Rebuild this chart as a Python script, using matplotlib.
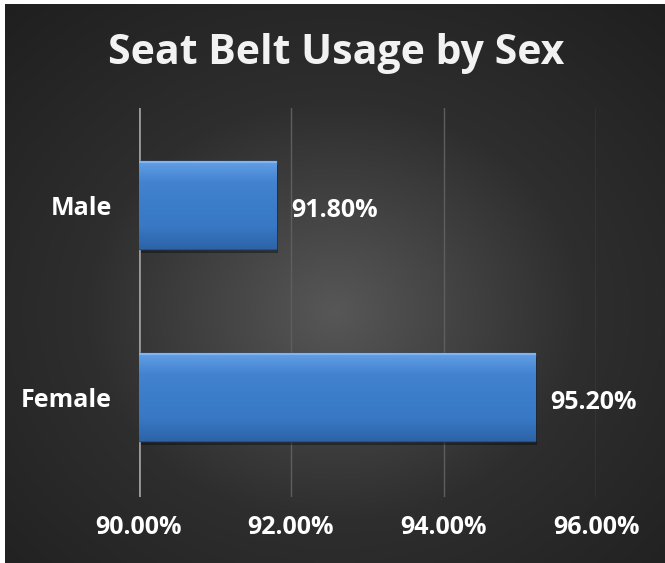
import numpy as np
import matplotlib
matplotlib.use("Agg")
import matplotlib.pyplot as plt
from matplotlib.colors import LinearSegmentedColormap

categories = ["Female", "Male"]
values = [95.2, 91.8]
value_labels = ["95.20%", "91.80%"]
xticks = [90, 92, 94, 96]
xtick_labels = ["90.00%", "92.00%", "94.00%", "96.00%"]
title = "Seat Belt Usage by Sex"

plt.rcParams['font.family'] = ['Open Sans', 'DejaVu Sans']

W, H = 665, 563
fig = plt.figure(figsize=(W / 100, H / 100), dpi=100)
fig.patch.set_facecolor("white")

# dark radial background panel
bg = fig.add_axes([5 / W, 0, 1 - 5 / W, 1 - 4 / H])
bg.set_axis_off()
yy, xx = np.mgrid[0:1:300j, 0:1:300j]
r = np.sqrt(((xx - 0.5) / 0.75) ** 2 + ((yy - 0.55) / 0.75) ** 2)
shade = np.clip(1 - r, 0, 1)
bg_cmap = LinearSegmentedColormap.from_list("bg", ["#1f1f1f", "#2e2e2e", "#575757"])
bg.imshow(shade, cmap=bg_cmap, aspect="auto", extent=[0, 1, 0, 1], vmin=0, vmax=1)
bg.set_xlim(0, 1)
bg.set_ylim(0, 1)

ax = fig.add_axes([138.5 / W, 1 - 497 / H, (596 - 138.5) / W, (497 - 108) / H])
ax.patch.set_alpha(0)
y = np.arange(len(categories))
bar_h = 0.46
bars = ax.barh(y, [v - 90 for v in values], left=90, height=bar_h,
               color="#3c7cc8", edgecolor="#23508a", linewidth=1.0, zorder=3)

# bevelled look: vertical gradient clipped to each bar
grad = np.linspace(0, 1, 100).reshape(-1, 1)
bar_cmap = LinearSegmentedColormap.from_list(
    "bar", ["#2d64a8", "#3878c4", "#3c7dca", "#4282cf", "#64a0e6"])
for b in bars:
    x0, y0, w, h = b.get_x(), b.get_y(), b.get_width(), b.get_height()
    im = ax.imshow(grad, cmap=bar_cmap, aspect="auto", origin="lower",
                   extent=[x0, x0 + w, y0, y0 + h], zorder=4)
    im.set_clip_path(b)
    # shadow
    ax.add_patch(plt.Rectangle((x0 + 0.03, y0 - 0.02), w, h, color="black",
                               alpha=0.35, zorder=2, lw=0))
    ax.plot([x0, x0 + w], [y0 + h * 0.985] * 2, color="#7db6f2", lw=1.5, zorder=5)

for yi, v, lab in zip(y, values, value_labels):
    ax.text(v + 0.2, yi - 0.03, lab, color="white", fontsize=18, fontweight="bold",
            va="center", ha="left", zorder=6)

ax.set_xlim(90, 96)
ax.set_ylim(-0.52, 1.505)
for t in xticks[1:]:
    ax.axvline(t, color="#5e5e5e", lw=1.0, zorder=1)
ax.axvline(90, color="#9a9a9a", lw=2.0, zorder=1)

ax.set_xticks(xticks)
ax.set_xticklabels(xtick_labels, color="white", fontsize=18, fontweight="bold")
ax.set_yticks(y)
ax.set_yticklabels(categories, color="white", fontsize=18, fontweight="bold")
ax.tick_params(axis="both", length=0)
ax.tick_params(axis="x", pad=13)
ax.tick_params(axis="y", pad=19)
for s in ax.spines.values():
    s.set_visible(False)

fig.text(0.505, 1 - 53 / H, title, color="#f2f2f2", fontsize=29.5, fontweight="bold",
         ha="center", va="center")

fig.savefig("out.png", dpi=100, facecolor=fig.get_facecolor())
